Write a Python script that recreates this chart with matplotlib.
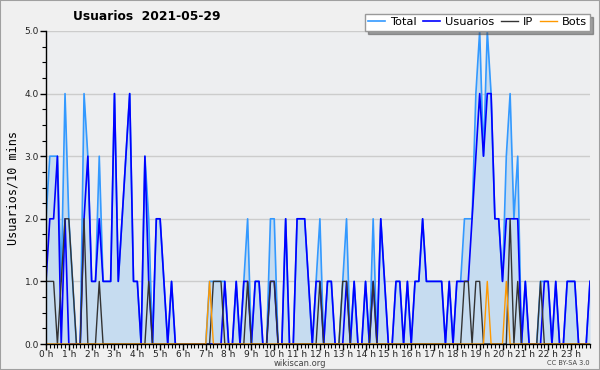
import numpy as np
import matplotlib
matplotlib.use("Agg")
import matplotlib.pyplot as plt
from matplotlib.ticker import MultipleLocator, FixedLocator
from matplotlib.patches import Rectangle

# 10-minute slots over the day (144 slots)
usuarios = [1, 2, 2, 3, 0, 2, 0, 0, 0, 0, 2, 3, 1, 1, 2, 1, 1, 1, 4, 1,
            2, 3, 4, 1, 1, 0, 3, 1, 0, 2, 2, 1, 0, 1, 0, 0, 0, 0, 0, 0,
            0, 0, 0, 0, 0, 0, 0, 1, 0, 0, 1, 0, 1, 1, 0, 1, 1, 0, 0, 1,
            1, 0, 0, 2, 0, 0, 2, 2, 2, 1, 0, 1, 1, 0, 1, 1, 0, 0, 0, 1,
            0, 1, 0, 0, 1, 0, 1, 0, 2, 1, 0, 0, 1, 1, 0, 1, 0, 1, 1, 2,
            1, 1, 1, 1, 1, 0, 1, 0, 1, 1, 1, 1, 2, 3, 4, 3, 4, 4, 2, 2,
            1, 2, 2, 2, 2, 0, 1, 0, 0, 0, 0, 1, 1, 0, 1, 0, 0, 1, 1, 1,
            0, 0, 0, 1]
ip = [1, 1, 1, 0, 1, 2, 2, 1, 0, 0, 2, 0, 0, 0, 1, 0, 0, 0, 0, 0,
      0, 0, 0, 0, 0, 0, 0, 1, 0, 0, 0, 0, 0, 0, 0, 0, 0, 0, 0, 0,
      0, 0, 0, 0, 1, 1, 1, 0, 0, 0, 0, 0, 0, 1, 0, 0, 0, 0, 0, 1,
      1, 0, 0, 0, 0, 0, 0, 0, 0, 0, 0, 0, 1, 0, 0, 0, 0, 0, 1, 1,
      0, 0, 0, 0, 0, 0, 1, 0, 0, 0, 0, 0, 0, 0, 0, 0, 0, 0, 0, 0,
      0, 0, 0, 0, 0, 0, 0, 0, 0, 0, 1, 1, 0, 1, 1, 0, 0, 0, 0, 0,
      0, 0, 2, 0, 1, 0, 0, 0, 0, 0, 1, 0, 0, 0, 0, 0, 0, 0, 0, 0,
      0, 0, 0, 0]
bots = [0] * 144
for k in (43, 116, 121):
    bots[k] = 1
total = [u + i + b for u, i, b in zip(usuarios, ip, bots)]

hour_labels = [f"{h} h" for h in range(24)]
legend_labels = ["Total", "Usuarios", "IP", "Bots"]
title = "Usuarios  2021-05-29"

W, H = 600, 370
fig = plt.figure(figsize=(W / 100, H / 100), dpi=100, facecolor="#F0F0F0")
fig.patches.append(Rectangle((0, 0), 1, 1, transform=fig.transFigure,
                             fill=False, edgecolor="#A0A0A0", lw=1.5))
ax = fig.add_axes([46 / W, 1 - 344 / H, (590 - 46) / W, (344 - 31) / H])
ax.set_facecolor("#EDEEF0")

x = np.arange(len(total))
ax.fill_between(x, total, 0, color="#C6DCF0", lw=0)
l1, = ax.plot(x, total, color="#3399FF", lw=1.2)
l2, = ax.plot(x, usuarios, color="#0000FF", lw=1.2)
l3, = ax.plot(x, ip, color="#333333", lw=1.0)
l4, = ax.plot(x, bots, color="#FF9900", lw=1.0)

ax.set_xlim(0, len(total) - 1)
ax.set_ylim(0, 5)
ax.yaxis.set_major_locator(MultipleLocator(1))
ax.yaxis.set_minor_locator(MultipleLocator(0.25))
ax.set_yticklabels([f"{v:.1f}" for v in ax.get_yticks()])
ax.xaxis.set_major_locator(FixedLocator(np.arange(24) * 6))
ax.set_xticklabels(hour_labels)
ax.xaxis.set_minor_locator(MultipleLocator(1))
ax.tick_params(axis="both", which="major", length=4, width=1, labelsize=6.5,
               colors="black", labelcolor="#222222")
ax.tick_params(axis="x", which="major", pad=0)
ax.tick_params(axis="y", which="major", pad=1)
ax.tick_params(axis="both", which="minor", length=3, width=0.8)
ax.grid(axis="y", color="#CCCCCC", lw=1)
ax.set_axisbelow(True)
for s in ("top", "right"):
    ax.spines[s].set_visible(False)
for s in ("left", "bottom"):
    ax.spines[s].set_color("black")
    ax.spines[s].set_linewidth(1)

ax.set_ylabel("Usuarios/10 mins", fontsize=8.5, family="DejaVu Sans Mono", labelpad=4)
fig.text(147 / W, 1 - 17 / H, title, fontsize=8.8, fontweight="bold",
         ha="center", va="center")
fig.text(300 / W, 1 - 363 / H, "wikiscan.org", fontsize=6, color="#444444",
         ha="center", va="center")
fig.text(590 / W, 1 - 363 / H, "CC BY-SA 3.0", fontsize=4.8, color="#444444",
         ha="right", va="center")

leg = fig.legend([l1, l2, l3, l4], legend_labels, loc="upper right",
                 bbox_to_anchor=(590 / W, 1 - 14 / H), ncol=4, fontsize=8.2,
                 frameon=True, fancybox=False, shadow=True, handlelength=1.5,
                 handletextpad=0.4, columnspacing=0.6, borderpad=0.3,
                 borderaxespad=0)
leg.get_frame().set_edgecolor("#999999")
leg.get_frame().set_facecolor("white")

fig.savefig("out.png", dpi=100, facecolor=fig.get_facecolor())
